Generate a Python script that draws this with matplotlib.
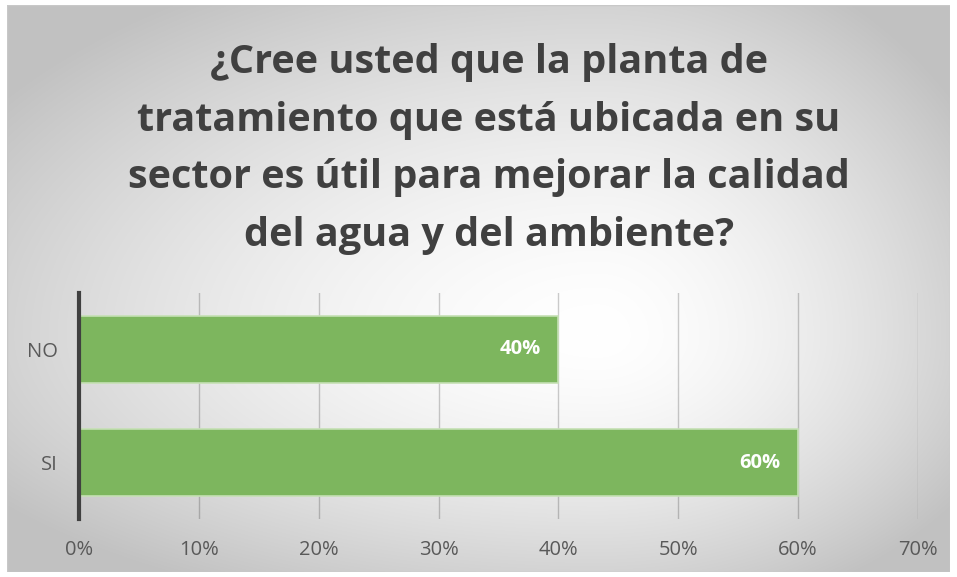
import numpy as np
import matplotlib
matplotlib.use("Agg")
import matplotlib.pyplot as plt
from matplotlib.patches import Rectangle

categories = ["SI", "NO"]
values = [0.60, 0.40]
xticks = [0, 0.1, 0.2, 0.3, 0.4, 0.5, 0.6, 0.7]
title = ("¿Cree usted que la planta de\ntratamiento que está ubicada en su\n"
         "sector es útil para mejorar la calidad\ndel agua y del ambiente?")

plt.rcParams['font.family'] = ['Open Sans', 'DejaVu Sans']

W, H = 957, 577
fig = plt.figure(figsize=(W / 100, H / 100), dpi=100)
fig.patch.set_facecolor("white")

# rectangular "from center" gradient like the office chart fill
bw, bh = 943, 567
bg = fig.add_axes([7 / W, 5 / H, bw / W, bh / H])
yy, xx = np.mgrid[0:bh, 0:bw]
cx, cy = 590, 330
dx = np.where(xx < cx, (cx - xx) / cx, (xx - cx) / (bw - cx))
dy = np.where(yy < cy, (cy - yy) / cy, (yy - cy) / (bh - cy))
d = np.sqrt(dx ** 2 + dy ** 2) / 1.2
shade = np.clip(1 - 0.23 * d ** 1.6, 0.76, 1)
bg.imshow(np.dstack([shade] * 3), aspect="auto", extent=[0, 1, 0, 1], origin="upper")
bg.set_xlim(0, 1)
bg.set_ylim(0, 1)
bg.axis("off")
bg.add_patch(Rectangle((0, 0), 1, 1, fill=False, edgecolor="#C8C8C8", lw=1,
                       transform=bg.transAxes))

ax = fig.add_axes([79 / W, 1 - 519 / H, (918 - 79) / W, (519 - 293) / H])
ax.patch.set_alpha(0)
ypos = np.arange(len(categories))
bars = ax.barh(ypos, values, height=0.6, color="#7DB65E", edgecolor="#C5E0B4",
               linewidth=1.2, zorder=3)
for b, v in zip(bars, values):
    ax.text(v - 0.0145, b.get_y() + b.get_height() / 2, f"{v:.0%}", ha="right",
            va="center", color="white", fontsize=14.5, fontweight="bold", zorder=4)

ax.set_xlim(0, 0.7)
ax.set_ylim(-0.5, 1.5)
ax.set_xticks(xticks)
ax.set_xticklabels([f"{t:.0%}" for t in xticks])
ax.set_yticks(ypos)
ax.set_yticklabels(categories)
ax.tick_params(axis="both", length=0, colors="#595959", labelsize=14.5)
ax.tick_params(axis="x", pad=15)
ax.tick_params(axis="y", pad=15)
ax.grid(axis="x", color="black", alpha=0.2, linewidth=1, zorder=0)
for s in ["top", "right", "bottom"]:
    ax.spines[s].set_visible(False)
ax.spines["left"].set_color("#404040")
ax.spines["left"].set_linewidth(3)
ax.spines["left"].set_zorder(5)

fig.text(489 / W, 1 - 149 / H, title, ha="center", va="center", fontsize=28.5,
         fontweight="bold", color="#404040", linespacing=1.63)

fig.savefig("out.png", dpi=100)
